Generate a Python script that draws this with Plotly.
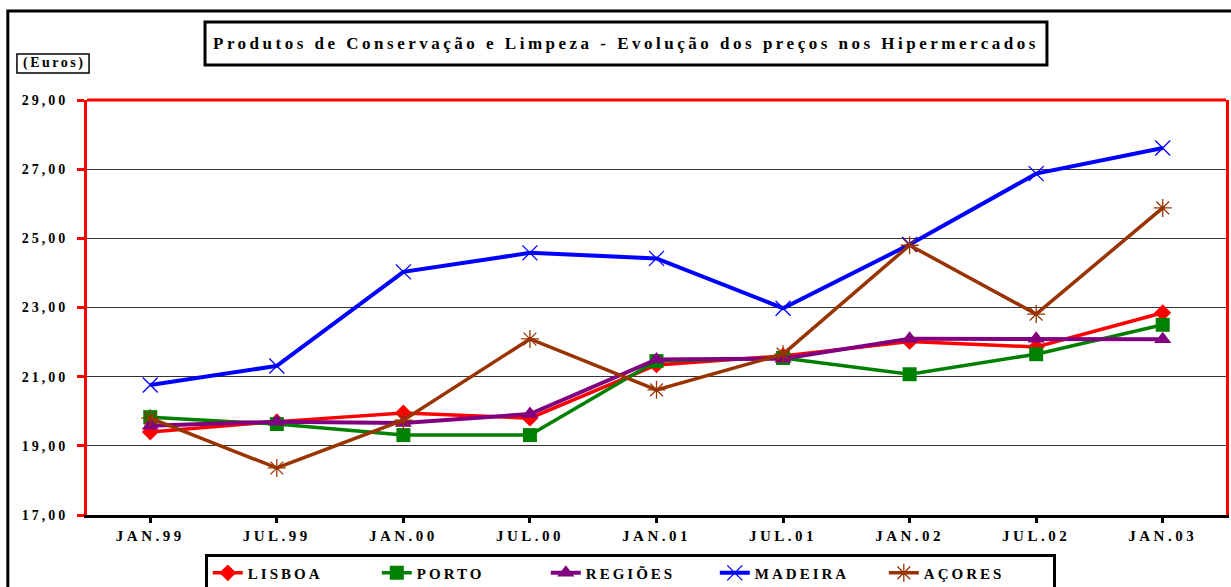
import plotly.graph_objects as go

categories = ["JAN.99", "JUL.99", "JAN.00", "JUL.00", "JAN.01", "JUL.01", "JAN.02", "JUL.02", "JAN.03"]
lisboa  = [19.40, 19.70, 19.95, 19.80, 21.34, 21.60, 22.02, 21.86, 22.85]
porto   = [19.83, 19.63, 19.31, 19.31, 21.45, 21.54, 21.07, 21.65, 22.50]
regioes = [19.58, 19.70, 19.66, 19.92, 21.50, 21.52, 22.10, 22.10, 22.08]
madeira = [20.76, 21.31, 24.03, 24.58, 24.42, 22.98, 24.82, 26.87, 27.61]
acores  = [19.80, 18.36, 19.74, 22.09, 20.62, 21.65, 24.80, 22.81, 25.88]
ytick_vals = [17, 19, 21, 23, 25, 27, 29]
ytick_text = ["17,00", "19,00", "21,00", "23,00", "25,00", "27,00", "29,00"]

FONT = "Liberation Serif"

def sp(t, ls=3):
    return '<span style="letter-spacing:%spx">%s</span>' % (ls, t)

series = [
    ("LISBOA", lisboa, "#FF0000", "diamond", 13, 3.5),
    ("PORTO", porto, "#008000", "square", 14, 3.5),
    ("REGIÕES", regioes, "#800080", "triangle-up", 15, 4),
    ("MADEIRA", madeira, "#0000FF", "x-thin", 15, 4),
    ("AÇORES", acores, "#993300", "asterisk", 15, 3.5),
]

fig = go.Figure()
xs = list(range(len(categories)))
for name, vals, col, sym, size, lw in series:
    mk = dict(symbol=sym, size=size, color=col)
    if sym in ("x-thin", "asterisk"):
        mk["line"] = dict(color=col, width=1.3)
    fig.add_trace(go.Scatter(
        x=xs, y=vals, name=sp("<b>%s</b>" % name, 3), mode="lines+markers",
        line=dict(color=col, width=lw), marker=mk,
    ))

fig.update_layout(
    width=1231, height=587,
    margin=dict(l=87, r=5, t=100, b=72, autoexpand=False),
    paper_bgcolor="white", plot_bgcolor="white",
    font=dict(family=FONT, color="black", size=12),
    showlegend=True,
    legend=dict(
        orientation="h", x=0.477, xanchor="center", y=-0.093, yanchor="top",
        bordercolor="black", borderwidth=3, bgcolor="white",
        font=dict(family=FONT, size=15, color="black"),
        itemwidth=30, tracegroupgap=0, entrywidth=124,
    ),
    xaxis=dict(
        range=[-0.5, 8.5], tickmode="array", tickvals=xs,
        ticktext=[sp("<b>%s</b>" % c, 3.5) for c in categories],
        showgrid=False, zeroline=False,
        showline=True, linecolor="black", linewidth=3,
        ticks="outside", tickson="boundaries", ticklen=5, tickwidth=3, tickcolor="black",
        tickfont=dict(family=FONT, size=15, color="black"),
    ),
    yaxis=dict(
        range=[17, 29], tickmode="array", tickvals=ytick_vals,
        ticktext=[sp("<b>%s</b>" % t, 3) for t in ytick_text],
        showgrid=True, gridcolor="#333333", gridwidth=1, zeroline=False,
        showline=True, linecolor="red", linewidth=3, mirror=True,
        ticks="outside", ticklen=7, tickwidth=3, tickcolor="red",
        tickfont=dict(family=FONT, size=14, color="black"),
        ticklabelstandoff=6,
    ),
)

# red top border of plot frame
fig.add_shape(type="line", xref="paper", yref="paper", x0=0, x1=1, y0=1, y1=1,
              line=dict(color="red", width=3))
# outer chart border
fig.add_shape(type="rect", xref="paper", yref="paper", x0=-0.0695, x1=1.02, y0=-0.3, y1=1.2145,
              line=dict(color="black", width=3), layer="below")
# title box
fig.add_shape(type="rect", xref="paper", yref="paper", x0=0.1036, x1=0.8428, y0=1.0843, y1=1.188,
              line=dict(color="black", width=3), fillcolor="white")
fig.add_annotation(xref="paper", yref="paper", x=0.4735, y=1.136, showarrow=False,
                   text=sp("<b>Produtos de Conservação e Limpeza - Evolução dos preços nos Hipermercados</b>", 3.5),
                   font=dict(family=FONT, size=17, color="black"), xanchor="center", yanchor="middle")
# units box
fig.add_shape(type="rect", xref="paper", yref="paper", x0=-0.0615, x1=0.0018, y0=1.0651, y1=1.1108,
              line=dict(color="black", width=1.5), fillcolor="white")
fig.add_annotation(xref="paper", yref="paper", x=-0.0290, y=1.088, showarrow=False,
                   text=sp("<b>(Euros)</b>", 2.5),
                   font=dict(family=FONT, size=14, color="black"), xanchor="center", yanchor="middle")

fig.write_html("out.html", config={"displayModeBar": False},
               post_script="document.body.style.margin='0';document.body.style.overflow='hidden';")
